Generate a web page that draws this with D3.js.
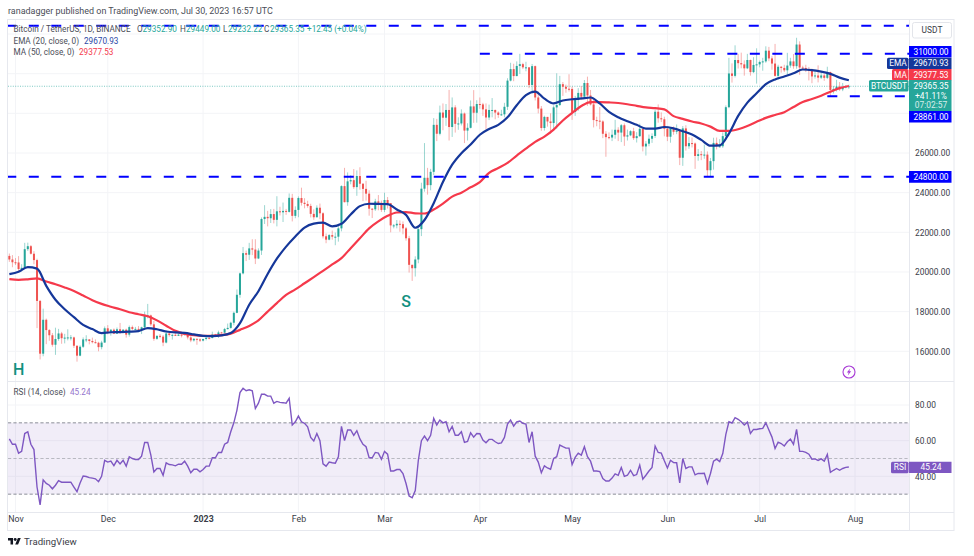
<!DOCTYPE html>
<html><head><meta charset="utf-8">
<script src="https://cdn.jsdelivr.net/npm/d3@7/dist/d3.min.js"></script>
<style>
html,body{margin:0;padding:0;background:#fff}
svg{display:block}
text{font-family:Roboto,"Liberation Sans",sans-serif}
.axis path,.axis line{display:none}
</style></head><body><svg id="c" width="974" height="556"></svg>
<script>
// ---- data ----
const firstBar = "2022-10-30";
const firstOpen = 20810;
const closes = [
20630,20490,20480,20150,20210,21150,21300,20920,20600,18540,
15880,17590,17070,16810,16330,16620,16900,16660,16690,16700,
16700,16280,15780,16230,16600,16600,16520,16460,16430,16210,
16440,17160,16980,17090,16890,17110,16970,17090,16840,17220,
17130,17130,17090,17210,17780,17810,17360,16630,16780,16740,
16440,16900,16820,16830,16780,16840,16830,16920,16700,16550,
16630,16600,16540,16620,16680,16670,16850,16830,16950,16940,
17120,17180,17440,17940,18850,19930,20950,20870,21190,21130,
20680,21080,22670,22780,22710,22920,22630,23060,23010,23080,
23030,23740,22830,23130,23730,23490,23430,23330,22930,22760,
23240,22960,21800,21630,21860,21780,21780,22200,24330,23520,
24570,24630,24280,24840,24450,24190,23950,23190,23160,23560,
23490,23130,23630,23470,22350,22350,22430,22410,22200,21700,
20360,20190,20630,22160,24200,24750,24380,25050,27420,26970,
28040,27780,28170,27310,28300,27470,27490,27990,27130,27270,
28350,28030,28470,28450,28200,27790,28170,28170,28040,27920,
27950,28330,29650,30230,29880,30390,30480,30320,30320,29430,
30380,28800,28240,27260,27820,27590,27510,28300,28420,29470,
29340,29240,29230,28070,28670,29030,28840,29530,28900,28450,
27660,27630,27590,26970,26800,26780,26920,27170,27030,27400,
26830,26890,27100,26750,26850,27220,26330,26470,26720,26860,
28080,27750,27700,27220,26820,27240,27070,27120,25760,27240,
26340,26500,26480,25850,25940,25900,25920,25130,25590,26510,
26340,26340,26850,28310,30010,29890,30690,30530,30470,30270,
30690,30080,30440,30470,30590,30620,31160,30770,30510,29890,
30350,30290,30170,30410,30620,30380,31470,30310,30290,30230,
30140,29860,29910,29800,29910,29790,30080,29180,29230,29350,
29210,29320,29352.9,29365.35];
const highs = [
20930,20850,20700,20800,20390,21470,21480,21360,21050,20670,
18590,18150,17650,17120,16920,17190,17130,16980,16880,17110,
16820,16740,16290,16300,16700,16810,16610,16690,16600,16480,
16530,17250,17320,17110,17150,17200,17430,17110,17140,17300,
17300,17230,17270,17240,18000,18390,17850,17530,16800,16870,
16820,17060,16920,16870,16960,16870,16860,16930,16970,16770,
16660,16640,16650,16630,16760,16770,16990,16880,17040,16980,
17180,17400,17490,18000,19120,19970,21260,21080,21470,21650,
21650,21190,22750,23370,23080,23170,23180,23820,23290,23500,
23180,23960,23940,23310,23810,24250,23720,23590,23440,23160,
23360,23450,23010,21940,21910,22090,21990,22320,24370,25250,
25020,24880,25190,25120,25280,24480,24600,24120,23220,23690,
23880,23600,24000,23780,23480,22420,22620,22600,22550,22270,
21820,20370,20790,22270,24500,26500,25250,25200,27760,27720,
28390,28500,28470,29180,28800,28410,27800,28200,28040,27500,
28650,29170,28660,28800,28530,28500,28440,28770,28190,28100,
28180,28530,29770,30550,30500,30620,31000,30550,30600,30320,
30490,30410,29100,28370,27880,27820,28000,28400,30020,29890,
29580,29450,29970,29340,28880,29270,29380,29680,29850,29180,
28670,27830,28320,27650,27100,27040,27180,27670,27300,27460,
27490,27180,27150,27270,27050,27480,27220,26600,26930,26990,
28190,28450,28050,27830,27340,27300,27340,27440,27130,27360,
27400,26800,26780,26530,26200,26100,26430,26080,25750,26770,
26780,26700,27040,28400,30800,30520,31430,31000,31060,30670,
31000,30710,30830,31280,30660,30800,31380,31350,30880,31500,
30450,30380,30450,31050,30800,30990,31810,31630,30400,30450,
30340,30250,30190,30420,30050,29990,30350,30100,29380,29690,
29580,29530,29420,29449];
const lows = [
20510,20240,20350,20050,20030,20180,21060,20880,20390,17170,
15590,15750,16360,16530,16230,15820,16530,16380,16400,16550,
16550,16170,15480,15750,16170,16460,16350,16400,16400,16000,
16100,16430,16860,16790,16870,16880,16880,16910,16690,16740,
17060,17090,17070,16870,17090,17660,17280,16530,16580,16660,
16260,16400,16740,16590,16770,16780,16700,16790,16600,16460,
16490,16330,16470,16500,16550,16600,16650,16750,16670,16910,
16910,17100,17140,17310,17920,18700,19880,20550,20610,20850,
20400,20650,20860,22420,22300,22470,22450,22300,22850,22520,
22880,23000,22550,22710,22760,23350,23210,23240,22750,22630,
22750,22660,21690,21450,21600,21630,21350,21530,22050,23510,
23340,24420,24190,23840,24150,23570,23600,22840,22720,23080,
23110,23030,23020,23200,22000,22200,22200,22030,21900,21580,
19970,19550,19770,20440,21810,24050,23900,24120,24890,26600,
26890,27150,27370,26630,26810,27030,27170,27390,26500,26630,
27240,27520,27530,28230,27870,27200,27660,27800,27700,27770,
27880,27800,28170,29610,29620,29870,29990,30230,30120,29270,
29100,28650,28000,27120,27130,27330,26970,27190,27230,28370,
28880,29040,29100,27670,27870,28130,28670,28800,28380,28400,
27290,27350,27200,26750,25810,26690,26600,26720,26600,26550,
26360,26630,26850,26660,26530,26810,26080,25870,26340,26510,
26760,27530,27560,26840,26600,26520,26920,26950,25390,25350,
26120,26210,26280,25200,25610,25640,25710,24820,24800,25160,
26180,26280,26260,26650,28260,29550,29810,30260,30270,29900,
30230,29900,30030,29500,30320,30150,30550,30630,30200,29850,
29700,30050,30080,29950,30300,30250,30250,29940,30260,30080,
29660,29520,29750,29560,29730,29640,29730,28860,29000,29100,
29130,29120,29260,29232];
// one reading every third bar
const lineStepDays = 3;
const emaValues = [
19890,20010,20240,20170,19300,18600,18120,17720,17330,17120,
16920,16960,16970,16990,17020,17170,17110,17000,16950,16930,
16850,16780,16770,16800,16920,17420,18350,19030,19900,20670,
21280,21790,22240,22440,22490,22300,22430,22900,23320,23440,
23430,23420,23150,22880,22230,22620,23470,24540,25410,25990,
26430,26920,27210,27420,27800,28410,28920,29100,28740,28500,
28650,28710,28750,28800,28500,28070,27800,27600,27420,27230,
27230,27310,27240,27100,26930,26660,26370,26380,26980,27870,
28540,29010,29470,29710,29860,30020,30210,30180,30100,29990,
29800,29670.93];
const maValues = [
19640,19600,19630,19680,19520,19380,19220,19040,18810,18580,
18390,18250,18120,17970,17870,17770,17560,17290,17030,16880,
16810,16780,16780,16820,16890,17080,17280,17560,18000,18430,
18840,19120,19430,19740,20060,20380,20700,21200,21700,22200,
22550,22830,23000,23020,22960,22950,23150,23450,23800,24000,
24270,24530,25000,25240,25500,25870,26220,26560,26830,27180,
27640,28020,28370,28570,28570,28550,28520,28460,28380,28300,
28260,28200,27860,27720,27590,27490,27330,27120,27120,27200,
27360,27570,27770,27920,28060,28320,28570,28720,28890,29090,
29270,29377.53];
const rsiValues = [
61,58,58,53,54,64,65,58,55,34,
24,38,36,35,33,35,37.6,36.7,36.7,36.7,
36.7,34,31.4,36.3,40.2,39.9,39.3,39,38.6,37,
40,49,48,48.5,46,49,47,49,45.7,51,
50,49.4,49.4,51.3,59,59,52,42.5,44.4,44.4,
40.6,47.6,46.6,46.4,45.9,46.8,46.8,48.5,45.7,42,
44,44,42.5,43.8,45.7,45.7,50.4,50.4,53.4,53.4,
58,59,65,70,77,87,89.4,88,88.5,88,
78,81,86,86,85,85,81,82,81.5,81.3,
81,83.8,68.8,70.6,73.8,70.6,69.7,67.8,61.8,59.8,
64,60,47,45.7,48,47.6,47.4,51,68,60,
66,66,63,65.6,61,58,56.6,50.4,50.4,53.4,
53,49.6,54,52.4,43,43,43.8,43.8,41.6,36,
29,28,32,49,60,62.6,60,63,72.5,68.8,
71.6,70,70.6,65,68,63,63,65,59,59.6,
64.4,62,64,63.9,60.3,58.8,60.7,60.7,59.4,58.4,
58.8,61.8,69.3,71.6,68.2,70.6,71,69.7,69.3,59,
65,51.3,48,42,45.9,44.7,44,50,51,57.5,
56.6,55.8,55.8,46.6,50.6,53,51.9,56.6,51,48.5,
43,43,42.7,38.7,37.4,37.4,39,41.4,40.6,45,
40,40.6,43.4,40.4,41,46.3,38.4,40.6,43,45,
57,53.4,53,48.7,44.7,49,47.7,47.6,36.3,50,
44.4,45.3,45.3,40.8,41.6,41.6,41.7,36,41.6,48.5,
49.6,48.3,52.8,63.5,70.6,69.9,72.9,72,70.6,68.8,
70.4,64,66.3,66.3,66.7,66.9,70,66,62,55.6,
59.2,58.4,57,59.4,60.9,57.9,66.3,54,54,53.4,
52.4,49.6,49.8,48.9,49.8,48.5,52.3,42.3,43.4,44.4,
43.4,44.4,45,45.24];
const monthTicks = ["2022-11-01","2022-12-01","2023-01-01","2023-02-01","2023-03-01","2023-04-01","2023-05-01","2023-06-01","2023-07-01","2023-08-01"];
const monthLabels = ["Nov","Dec","2023","Feb","Mar","Apr","May","Jun","Jul","Aug"];
const priceTicks = [26000,24000,22000,20000,18000,16000];
const priceGrid = [32000,30000,28000,26000,24000,22000,20000,18000,16000];
const rsiTicks = [80,60,40];
const levelValues = [32420,31000,28861,24800];
const levelStarts = ["2022-10-29","2023-04-01","2023-07-23","2022-10-29"];
const rsiBands = [70,50,30];
const patternLabels = ["H","S"];
const patternDates = ["2022-11-02","2023-03-08"];
const patternPrices = [14800,18250];
const closeValue = 29365.35;

// ---- layout ----
const L=8,R=909,OUT=954,TOP=19,MID=381,AX=512,BOT=530;
const svg=d3.select("#c");
const parse=d3.utcParse("%Y-%m-%d");
const x=d3.scaleUtc().domain([parse("2022-11-01"),parse("2023-08-01")]).range([15.5,855]);
const y=d3.scaleLinear().domain([26000,16000]).range([153,351.3]);
const yR=d3.scaleLinear().domain([50,80]).range([458.5,405]);
const t0=parse(firstBar);
const barX=i=>x(d3.utcDay.offset(t0,i));
const defs=svg.append("defs");
defs.append("clipPath").attr("id","m").append("rect").attr("x",L).attr("y",TOP).attr("width",R-L).attr("height",MID-TOP);
defs.append("clipPath").attr("id","r").append("rect").attr("x",L).attr("y",MID).attr("width",R-L).attr("height",AX-MID);

const GRID="#f3f4f7",EDGE="#e6e8ee",TXT="#3a3d47";
// grid
const grid=svg.append("g").attr("stroke",GRID).attr("stroke-width",1);
grid.selectAll(".v").data(monthTicks).join("line").attr("x1",d=>x(parse(d))).attr("x2",d=>x(parse(d))).attr("y1",TOP).attr("y2",AX);
grid.selectAll(".h").data(priceGrid).join("line").attr("x1",L).attr("x2",R).attr("y1",d=>y(d)).attr("y2",d=>y(d));
grid.selectAll(".r").data(rsiTicks).join("line").attr("x1",L).attr("x2",R).attr("y1",d=>yR(d)).attr("y2",d=>yR(d));

// RSI pane background
svg.append("rect").attr("x",L).attr("width",R-L).attr("y",yR(70)).attr("height",yR(30)-yR(70)).attr("fill","#7e57c2").attr("opacity",.11);
svg.selectAll(".band").data(rsiBands).join("line").attr("x1",L).attr("x2",R).attr("y1",d=>yR(d)).attr("y2",d=>yR(d))
  .attr("stroke",d=>d===50?"#a9abb3":"#70737e").attr("stroke-width",.8).attr("stroke-dasharray","3.2 2.2");

const main=svg.append("g").attr("clip-path","url(#m)");
// close price line
main.append("line").attr("x1",L).attr("x2",R).attr("y1",y(closeValue)).attr("y2",y(closeValue))
  .attr("stroke","#26a69a").attr("stroke-width",.8).attr("stroke-dasharray","1 1.4").attr("opacity",.75);

// candles
const bars=closes.map((c,i)=>({i,o:i?closes[i-1]:firstOpen,c,h:highs[i],l:lows[i]}));
const UP="#26a69a",DN="#ef5350";
const col=d=>d.c>=d.o?UP:DN;
main.selectAll(".w").data(bars).join("line").attr("x1",d=>barX(d.i)).attr("x2",d=>barX(d.i)).attr("y1",d=>y(d.h)).attr("y2",d=>y(d.l))
  .attr("stroke",col).attr("stroke-width",1).attr("opacity",.45);
main.selectAll(".b").data(bars).join("rect").attr("x",d=>barX(d.i)-1).attr("width",2)
  .attr("y",d=>y(Math.max(d.o,d.c))).attr("height",d=>Math.max(1,Math.abs(y(d.o)-y(d.c)))).attr("fill",col);

// moving averages
const ln=d3.line().x((d,i)=>barX(i*lineStepDays)).y(d=>y(d)).curve(d3.curveMonotoneX);
main.append("path").attr("d",ln(maValues)).attr("fill","none").attr("stroke","#f5394b").attr("stroke-width",2.2);
main.append("path").attr("d",ln(emaValues)).attr("fill","none").attr("stroke","#15379a").attr("stroke-width",2.2);

// dashed levels
main.selectAll(".lv").data(levelValues).join("line").attr("x1",(d,i)=>x(parse(levelStarts[i]))).attr("x2",R)
  .attr("y1",d=>y(d)).attr("y2",d=>y(d)).attr("stroke","#0000ff").attr("stroke-width",2).attr("stroke-dasharray","10 12.5");

// H / S labels
svg.selectAll(".pat").data(patternLabels).join("text").text(d=>d)
  .attr("x",(d,i)=>x(parse(patternDates[i]))).attr("y",(d,i)=>y(patternPrices[i]))
  .attr("text-anchor","middle").attr("font-size",16).attr("font-weight",500).attr("fill","#12907f");

// RSI line
svg.append("path").attr("clip-path","url(#r)")
  .attr("d",d3.line().x((d,i)=>barX(i)).y(d=>yR(d))(rsiValues))
  .attr("fill","none").attr("stroke","#7e57c2").attr("stroke-width",1.4);

// frame
const fr=svg.append("g").attr("stroke",EDGE).attr("stroke-width",1).attr("fill","none");
fr.append("rect").attr("x",7.5).attr("y",TOP+.5).attr("width",OUT-7.5).attr("height",BOT-TOP);
[[L,OUT,MID+.5,MID+.5],[L,OUT,AX+.5,AX+.5],[R+.5,R+.5,TOP,BOT]].forEach(a=>fr.append("line").attr("x1",a[0]).attr("x2",a[1]).attr("y1",a[2]).attr("y2",a[3]));

// axes
const fs=8.4, lfs=8.2;
const ax=svg.append("g").attr("class","axis").attr("transform",`translate(915,0)`)
  .call(d3.axisRight(y).tickValues(priceTicks).tickSize(0).tickPadding(0).tickFormat(d3.format(".2f")));
ax.selectAll("text").attr("font-size",fs).attr("fill",TXT);
const ar=svg.append("g").attr("class","axis").attr("transform",`translate(915,0)`)
  .call(d3.axisRight(yR).tickValues(rsiTicks).tickSize(0).tickPadding(0).tickFormat(d3.format(".2f")));
ar.selectAll("text").attr("font-size",fs).attr("fill",TXT);
const ab=svg.append("g").attr("class","axis").attr("transform",`translate(0,${AX+4})`)
  .call(d3.axisBottom(x).tickValues(monthTicks.map(parse)).tickSize(0).tickPadding(0).tickFormat((d,i)=>monthLabels[i]));
ab.selectAll("text").attr("font-size",8.8).attr("fill",TXT).attr("font-weight",(d,i)=>monthLabels[i]==="2023"?700:400);

// price tags
function tag(top,h,bg,val,label,lw,extra){
  const g=svg.append("g");
  g.append("path").attr("fill",bg).attr("d",`M${R} ${top}h42.5v${h}h-42.5z`);
  g.append("text").text(val).attr("x",931).attr("y",top+5.8).attr("dy",".33em").attr("text-anchor","middle").attr("font-size",fs).attr("fill","#fff");
  if(label){
    g.append("rect").attr("x",R-lw).attr("y",top).attr("width",lw-.5).attr("height",11.4).attr("rx",1.5).attr("fill",bg);
    g.append("text").text(label).attr("x",R-lw/2).attr("y",top+5.8).attr("dy",".33em").attr("text-anchor","middle").attr("font-size",fs).attr("fill","#fff");
  }
  (extra||[]).forEach((t,i)=>g.append("text").text(t).attr("x",931).attr("y",top+15.8+i*9.6).attr("dy",".33em").attr("text-anchor","middle").attr("font-size",fs).attr("fill","#fff").attr("opacity",i?.8:1));
}
tag(46,11.4,"#0000ff","31000.00");
tag(57.7,11.4,"#15379a","29670.93","EMA",22);
tag(69,11.2,"#f5394b","29377.53","MA",17);
tag(80,31,"#26a69a","29365.35","BTCUSDT",40,["+41.11%","07:02:57"]);
tag(111,11.4,"#0000ff","28861.00");
tag(171,11.7,"#0000ff","24800.00");
tag(461.8,11.2,"#7e57c2","45.24","RSI",18);

// USDT button
svg.append("rect").attr("x",912.5).attr("y",22.5).attr("width",39).attr("height",15.5).attr("rx",2).attr("fill","#fff").attr("stroke","#e3e5ea");
svg.append("text").text("USDT").attr("x",932).attr("y",30.4).attr("dy",".33em").attr("text-anchor","middle").attr("font-size",fs).attr("fill",TXT);

// legends
const leg=(s,xp,yp,c,fz)=>svg.append("text").text(s).attr("x",xp).attr("y",yp).attr("dy",".33em").attr("font-size",fz||lfs).attr("fill",c);
leg("ranadagger published on TradingView.com, Jul 30, 2023 16:57 UTC",8,11,"#4a4d57",8.95);
const T="#26a69a";
leg("Bitcoin / TetherUS, 1D, BINANCE",13.5,29,"#4a4d57");
leg("O",137,29,"#4a4d57");leg("29352.90",142.5,29,T);
leg("H",180,29,"#4a4d57");leg("29449.00",186,29,T);
leg("L",223,29,"#4a4d57");leg("29232.22",228,29,T);
leg("C",264,29,"#4a4d57");leg("29365.35",270,29,T);
leg("+12.45 (+0.04%)",307,29,T);
leg("EMA (20, close, 0)",13.5,41,"#4a4d57");leg("29670.93",84,41,"#2a47a5");
leg("MA (50, close, 0)",13.5,52.5,"#4a4d57");leg("29377.53",79,52.5,"#f5394b");
leg("RSI (14, close)",13.5,392,"#4a4d57");leg("45.24",70,392,"#9575cd");

// flash icon
const fl=svg.append("g").attr("transform","translate(849,372)");
fl.append("circle").attr("r",6).attr("fill","#fff").attr("stroke","#a83bd6").attr("stroke-width",1.1);
fl.append("path").attr("d","M1.2-3.6L-2.2 .6H-.3L-1.2 3.6L2.2-.7H.3Z").attr("fill","#a83bd6");

// TradingView mark
const lg=svg.append("g").attr("transform","translate(8,536.6) scale(.36)").attr("fill","#131722");
lg.append("path").attr("d","M14 22H7V11H0V4h14v18zM28 22h-8l7.5-18h8L28 22z");
lg.append("circle").attr("cx",20).attr("cy",8).attr("r",4);
leg("TradingView",24,541.5,"#3a3d47",9.6);
</script></body></html>
